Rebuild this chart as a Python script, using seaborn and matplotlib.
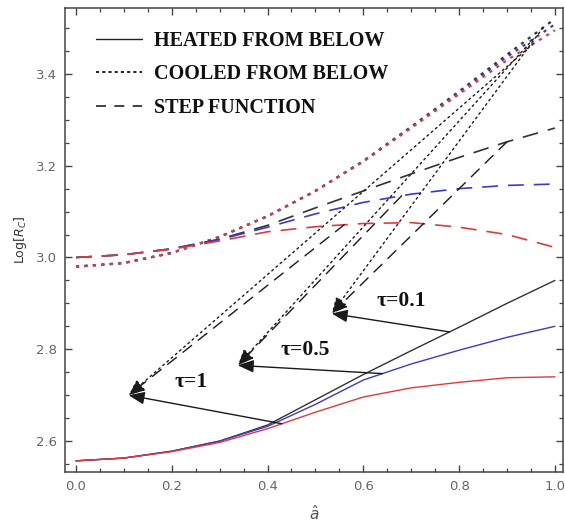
import numpy as np
import pandas as pd
import matplotlib
matplotlib.use("Agg")
import matplotlib.pyplot as plt
import seaborn as sns
from matplotlib.lines import Line2D
from matplotlib.ticker import MultipleLocator

# ---------------- data ----------------
a_hat = [0.0, 0.1, 0.2, 0.3, 0.4, 0.5, 0.6, 0.7, 0.8, 0.9, 1.0]
tau_levels = ["0.1", "0.5", "1"]

heated_t01 = [2.557, 2.563, 2.578, 2.600, 2.635, 2.690, 2.745, 2.797, 2.848, 2.900, 2.950]
heated_t05 = [2.557, 2.563, 2.578, 2.600, 2.632, 2.680, 2.733, 2.768, 2.798, 2.826, 2.850]
heated_t1 = [2.557, 2.563, 2.577, 2.597, 2.627, 2.663, 2.696, 2.716, 2.728, 2.738, 2.740]

cooled_t01 = [2.980, 2.988, 3.010, 3.045, 3.090, 3.145, 3.210, 3.285, 3.362, 3.442, 3.520]
cooled_t05 = [2.980, 2.988, 3.010, 3.045, 3.090, 3.145, 3.210, 3.284, 3.360, 3.437, 3.508]
cooled_t1 = [2.980, 2.988, 3.010, 3.045, 3.090, 3.145, 3.209, 3.282, 3.356, 3.430, 3.495]

step_t01 = [3.000, 3.006, 3.019, 3.040, 3.070, 3.108, 3.145, 3.182, 3.218, 3.252, 3.282]
step_t05 = [3.000, 3.006, 3.019, 3.039, 3.066, 3.095, 3.120, 3.138, 3.150, 3.157, 3.160]
step_t1 = [3.000, 3.006, 3.018, 3.036, 3.056, 3.067, 3.074, 3.076, 3.066, 3.050, 3.022]

legend_labels = ["HEATED FROM BELOW", "COOLED FROM BELOW", "STEP FUNCTION"]

# annotation anchors (label stars) and the a-hat values on the curves the arrows come from
star_x = [0.534, 0.338, 0.110]          # tau = 0.1, 0.5, 1
star_y = [2.878, 2.765, 2.700]
solid_from_x = [0.78, 0.64, 0.43]
dotted_from_x = [0.975, 0.955, 0.955]
dashed_from_x = [0.90, 0.68, 0.56]
label_x = [0.679, 0.478, 0.240]
label_y = [2.906, 2.798, 2.728]

palette = {"0.1": "#333333", "0.5": "#3b3bc8", "1": "#e03a3a"}

# ---------------- tidy frames ----------------
def frame(series):
    rows = []
    for tau, vals in zip(tau_levels, series):
        for x, y in zip(a_hat, vals):
            rows.append({"a": x, "logR": y, "tau": tau})
    return pd.DataFrame(rows)

df_heated = frame([heated_t01, heated_t05, heated_t1])
df_cooled = frame([cooled_t01, cooled_t05, cooled_t1])
df_step = frame([step_t01, step_t05, step_t1])

# ---------------- figure ----------------
sns.set_style("ticks")
plt.rcParams["font.family"] = ["DejaVu Sans"]

fig = plt.figure(figsize=(5.65, 5.24), dpi=100)
ax = fig.add_axes([0.115, 0.0992, 0.8815, 0.8855])

dot_ls = (0, (1.4, 2.4))
dash_ls = (0, (9.5, 6))

sns.lineplot(data=df_heated, x="a", y="logR", hue="tau", hue_order=tau_levels,
             palette=palette, lw=1.0, legend=False, errorbar=None, ax=ax, sort=True)
sns.lineplot(data=df_cooled, x="a", y="logR", hue="tau", hue_order=tau_levels,
             palette=palette, lw=1.6, linestyle=dot_ls, legend=False, errorbar=None, ax=ax)
sns.lineplot(data=df_step, x="a", y="logR", hue="tau", hue_order=tau_levels,
             palette=palette, lw=1.2, linestyle=dash_ls, legend=False, errorbar=None, ax=ax)

# ---------------- arrows to the tau labels ----------------
heated_sets = [heated_t01, heated_t05, heated_t1]
cooled_sets = [cooled_t01, cooled_t05, cooled_t1]
step_sets = [step_t01, step_t05, step_t1]
head = "-|>,head_length=0.8,head_width=0.32"
for i in range(3):
    sx, sy = star_x[i], star_y[i]
    for fx, vals, ls in [(dotted_from_x[i], cooled_sets[i], (0, (1.4, 2.6))),
                         (dashed_from_x[i], step_sets[i], (0, (8, 6))),
                         (solid_from_x[i], heated_sets[i], "-")]:
        fy = float(np.interp(fx, a_hat, vals))
        ax.annotate("", xy=(sx, sy), xytext=(fx, fy),
                    arrowprops=dict(arrowstyle=head, color="#1a1a1a", lw=1.0,
                                    linestyle=ls, shrinkA=0, shrinkB=0,
                                    mutation_scale=12))
    ax.text(label_x[i], label_y[i], f"τ={tau_levels[i]}", fontsize=15.5,
            fontweight="bold", family="Liberation Serif", ha="center", va="center",
            color="#111111")

# ---------------- legend ----------------
handles = [Line2D([], [], color="#222222", lw=1.0, ls="-"),
           Line2D([], [], color="#222222", lw=1.4, ls=(0, (1.6, 1.6))),
           Line2D([], [], color="#222222", lw=1.2, ls=(0, (6, 5)))]
leg = ax.legend(handles, legend_labels, loc="upper left", bbox_to_anchor=(0.025, 0.99),
                frameon=False, handlelength=2.3, handletextpad=0.6, labelspacing=0.68,
                prop=dict(family="Liberation Serif", weight="bold", size=14.5))
for t in leg.get_texts():
    t.set_color("#111111")

# ---------------- axes styling ----------------
ax.set_xlim(-0.023, 1.017)
ax.set_ylim(2.5326, 3.5435)
ax.xaxis.set_major_locator(MultipleLocator(0.2))
ax.xaxis.set_minor_locator(MultipleLocator(0.05))
ax.yaxis.set_major_locator(MultipleLocator(0.2))
ax.yaxis.set_minor_locator(MultipleLocator(0.05))
ax.set_xticks(a_hat[::2])
ax.set_xticklabels([f"{v:.1f}" for v in a_hat[::2]])
ax.tick_params(which="both", direction="in", top=True, right=True,
               color="#444444", labelcolor="#666666", labelsize=9.5)
ax.tick_params(which="major", length=5, width=1.0, pad=6)
ax.tick_params(which="minor", length=3, width=0.9)
for s in ax.spines.values():
    s.set_color("#444444")
    s.set_linewidth(1.1)

ax.set_xlabel(r"$\hat{a}$", fontsize=11, color="#555555", labelpad=8)
ax.set_ylabel(r"Log[$R_C$]", fontsize=9, color="#333333", labelpad=5)

fig.savefig("out.png", dpi=100)
